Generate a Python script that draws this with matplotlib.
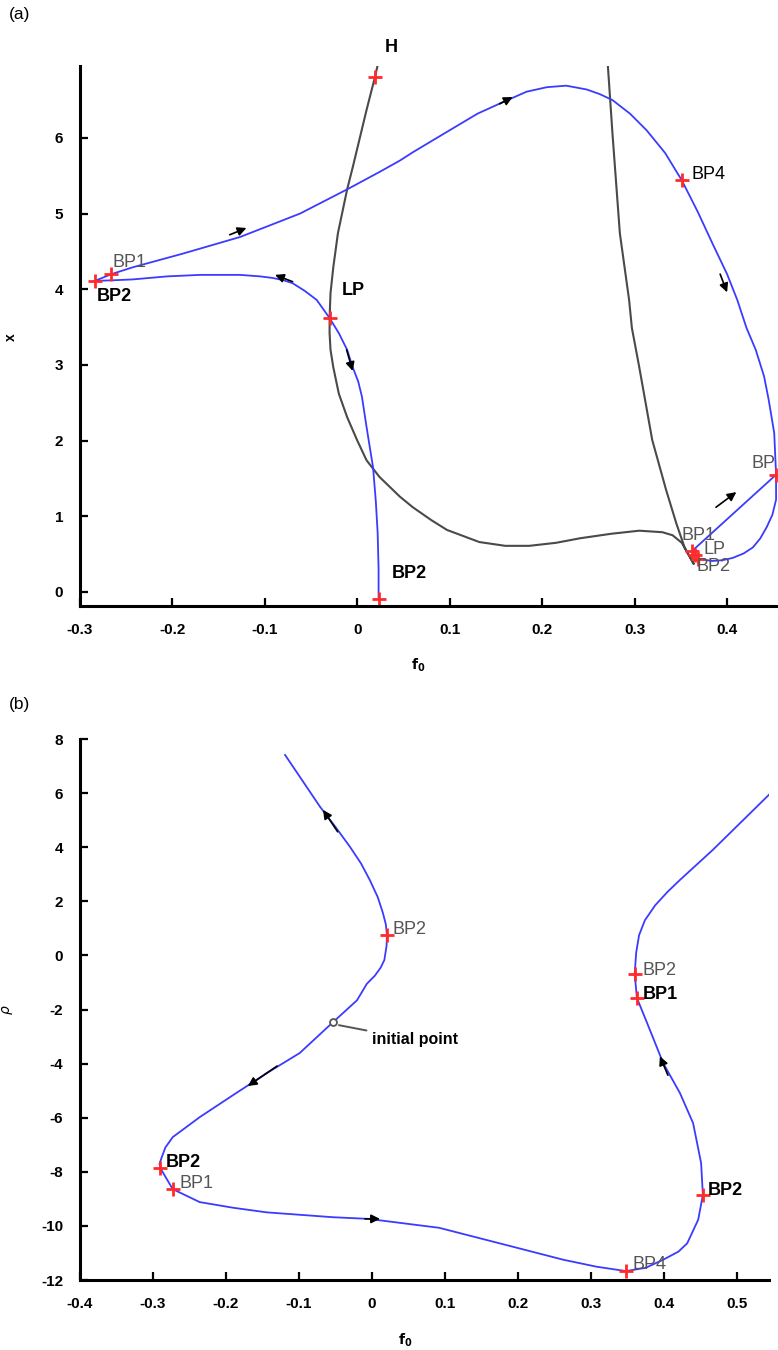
import numpy as np
import matplotlib
matplotlib.use('Agg')
import matplotlib.pyplot as plt

plt.rcParams['font.family'] = ['Liberation Sans', 'DejaVu Sans']
plt.rcParams['axes.unicode_minus'] = False

# ---------------- panel (a): f0 vs x ----------------
# blue branch from left BP2 through LP down to BP2 on the axis
a_low_f0 = [-0.284, -0.262, -0.243, -0.206, -0.170, -0.127, -0.105, -0.092, -0.080, -0.070,
            -0.057, -0.044, -0.030, -0.020, -0.011, -0.005, 0.001, 0.005, 0.010, 0.013,
            0.017, 0.020, 0.022, 0.023, 0.023]
a_low_x = [4.11, 4.12, 4.13, 4.17, 4.19, 4.19, 4.17, 4.15, 4.12, 4.08,
           3.98, 3.86, 3.62, 3.42, 3.20, 2.97, 2.78, 2.58, 2.18, 1.95,
           1.65, 1.20, 0.78, 0.30, -0.09]

# blue loop from left BP2 over the top, down the right side
a_loop_f0 = [-0.284, -0.266, -0.243, -0.189, -0.127, -0.062, -0.011, 0.024, 0.046, 0.060,
             0.097, 0.130, 0.157, 0.183, 0.205, 0.226, 0.248, 0.262, 0.276, 0.295,
             0.313, 0.333, 0.351, 0.368, 0.384, 0.400, 0.411, 0.421, 0.431, 0.440,
             0.445, 0.451, 0.453, 0.453, 0.449, 0.443, 0.436, 0.428, 0.418, 0.406,
             0.395, 0.384, 0.368]
a_loop_x = [4.11, 4.20, 4.29, 4.47, 4.69, 5.00, 5.32, 5.55, 5.70, 5.81,
            6.08, 6.32, 6.47, 6.61, 6.67, 6.69, 6.64, 6.58, 6.50, 6.32,
            6.10, 5.80, 5.44, 5.03, 4.61, 4.20, 3.86, 3.49, 3.20, 2.85,
            2.54, 2.10, 1.55, 1.22, 1.02, 0.86, 0.71, 0.59, 0.51, 0.45,
            0.42, 0.41, 0.44]

# short blue segment BP1 -> BP
a_seg_f0 = [0.362, 0.453]
a_seg_x = [0.54, 1.55]

# gray curve
a_gray_f0 = [0.022, 0.019, 0.010, -0.005, -0.011, -0.021, -0.026, -0.029, -0.030, -0.030,
             -0.029, -0.026, -0.020, -0.011, 0.000, 0.010, 0.024, 0.046, 0.060, 0.080,
             0.097, 0.132, 0.160, 0.186, 0.215, 0.241, 0.275, 0.305, 0.330, 0.341,
             0.351, 0.359, 0.364, 0.358, 0.354, 0.345, 0.334, 0.319, 0.305, 0.297,
             0.294, 0.284, 0.276, 0.271]
a_gray_x = [6.96, 6.80, 6.37, 5.61, 5.32, 4.74, 4.29, 3.95, 3.62, 3.42,
            3.20, 2.97, 2.62, 2.31, 2.00, 1.74, 1.52, 1.26, 1.12, 0.95,
            0.82, 0.66, 0.61, 0.61, 0.65, 0.71, 0.77, 0.81, 0.79, 0.75,
            0.65, 0.48, 0.37, 0.50, 0.59, 0.91, 1.35, 2.01, 2.97, 3.49,
            3.86, 4.74, 6.06, 6.96]

# special points
a_pts_f0 = [0.019, -0.030, -0.284, -0.266, 0.351, 0.453, 0.362, 0.365, 0.368, 0.023]
a_pts_x = [6.80, 3.62, 4.11, 4.20, 5.44, 1.55, 0.54, 0.49, 0.44, -0.09]

# labels: text, f0, x, colour, weight
a_labels = [
    ('H', 0.030, 7.19, 'black', 'bold'),
    ('BP1', -0.265, 4.36, '#555555', 'normal'),
    ('BP2', -0.282, 3.90, 'black', 'bold'),
    ('LP', -0.017, 3.99, 'black', 'bold'),
    ('BP4', 0.361, 5.51, 'black', 'normal'),
    ('BP', 0.426, 1.70, '#555555', 'normal'),
    ('BP1', 0.351, 0.75, '#555555', 'normal'),
    ('LP', 0.375, 0.555, '#555555', 'normal'),
    ('BP2', 0.3665, 0.34, '#555555', 'normal'),
    ('BP2', 0.037, 0.25, 'black', 'bold'),
]

# direction arrows (tail f0, tail x, head f0, head x)
a_arrows = [
    (-0.138, 4.72, -0.120, 4.81),
    (-0.070, 4.10, -0.089, 4.19),
    (-0.0116, 3.20, -0.005, 2.92),
    (0.154, 6.45, 0.168, 6.54),
    (0.3925, 4.20, 0.400, 3.96),
    (0.388, 1.12, 0.410, 1.32),
]

# ---------------- panel (b): f0 vs rho ----------------
b_f0 = [-0.119, -0.095, -0.071, -0.050, -0.030, -0.015, -0.003, 0.008, 0.015, 0.019,
        0.0205, 0.020, 0.017, 0.012, 0.004, -0.007, -0.0205, -0.053, -0.099, -0.144,
        -0.190, -0.236, -0.273, -0.283, -0.288, -0.291, -0.290, -0.273, -0.236, -0.190,
        -0.144, -0.053, -0.005, 0.092, 0.193, 0.262, 0.308, 0.348, 0.375, 0.399,
        0.420, 0.432, 0.447, 0.4534, 0.451, 0.440, 0.422, 0.399, 0.377, 0.363,
        0.360, 0.362, 0.366, 0.374, 0.388, 0.405, 0.422, 0.467, 0.544]
b_rho = [7.41, 6.45, 5.49, 4.75, 4.01, 3.40, 2.79, 2.15, 1.57, 1.15,
         0.76, 0.35, -0.17, -0.45, -0.75, -1.05, -1.66, -2.46, -3.61, -4.35,
         -5.16, -5.98, -6.72, -7.10, -7.46, -7.70, -7.86, -8.64, -9.12, -9.33,
         -9.50, -9.68, -9.74, -10.07, -10.77, -11.25, -11.51, -11.67, -11.55, -11.25,
         -10.95, -10.64, -9.77, -8.85, -7.68, -6.20, -5.09, -3.98, -2.50, -1.57,
         -0.69, 0.10, 0.75, 1.30, 1.85, 2.35, 2.79, 3.90, 5.94]

b_pts_f0 = [0.0205, 0.360, 0.363, -0.290, -0.273, 0.348, 0.4534]
b_pts_rho = [0.755, -0.69, -1.57, -7.86, -8.64, -11.67, -8.85]

b_init = (-0.053, -2.46)

b_labels = [
    ('BP2', 0.0288, 0.94, '#555555', 'normal'),
    ('BP2', 0.370, -0.54, '#555555', 'normal'),
    ('BP1', 0.371, -1.46, 'black', 'bold'),
    ('BP2', -0.282, -7.64, 'black', 'bold'),
    ('BP1', -0.263, -8.45, '#555555', 'normal'),
    ('BP2', 0.460, -8.68, 'black', 'bold'),
    ('BP4', 0.3575, -11.44, '#555555', 'normal'),
]

b_arrows = [
    (-0.047, 4.57, -0.067, 5.38),
    (-0.130, -4.09, -0.170, -4.83),
    (-0.0096, -9.74, 0.011, -9.74),
    (0.4055, -4.43, 0.3945, -3.73),
]

BLUE = '#3b3bff'
GRAY = '#4a4a4a'
RED = '#ff2a2a'


def style_axes(ax):
    ax.spines['top'].set_visible(False)
    ax.spines['right'].set_visible(False)
    ax.spines['left'].set_linewidth(2.2)
    ax.spines['bottom'].set_linewidth(2.2)
    ax.tick_params(direction='in', length=6, width=1.6, labelsize=11, pad=12)
    for lab in ax.get_xticklabels() + ax.get_yticklabels():
        lab.set_fontweight('bold')


def draw_arrows(ax, arrows):
    for tx, ty, hx, hy in arrows:
        ax.annotate('', xy=(hx, hy), xytext=(tx, ty),
                    arrowprops=dict(arrowstyle='-|>', color='black', lw=1.2,
                                    mutation_scale=13, shrinkA=0, shrinkB=0))


def draw_labels(ax, labels):
    for txt, x, y, c, w in labels:
        ax.text(x, y, txt, color=c, fontweight=w, fontsize=13, ha='left', va='center')


fig = plt.figure(figsize=(7.78, 13.5), dpi=100)

# panel (a)
ax1 = fig.add_axes([80 / 778, 1 - 606 / 1350, 697 / 778, 540 / 1350])
ax1.plot(a_gray_f0, a_gray_x, color=GRAY, lw=1.5)
ax1.plot(a_low_f0, a_low_x, color=BLUE, lw=1.3)
ax1.plot(a_loop_f0, a_loop_x, color=BLUE, lw=1.3)
ax1.plot(a_seg_f0, a_seg_x, color=BLUE, lw=1.3)
ax1.plot(a_pts_f0, a_pts_x, '+', color=RED, ms=10, mew=2, clip_on=False)
draw_arrows(ax1, a_arrows)
draw_labels(ax1, a_labels)
ax1.set_xlim(-0.3, 0.454)
ax1.set_ylim(-0.185, 6.95)
ax1.set_xticks([-0.3, -0.2, -0.1, 0, 0.1, 0.2, 0.3, 0.4])
ax1.set_xticklabels(['-0.3', '-0.2', '-0.1', '0', '0.1', '0.2', '0.3', '0.4'])
ax1.set_yticks([0, 1, 2, 3, 4, 5, 6])
style_axes(ax1)
ax1.set_xlabel(r'$\mathbf{f_0}$', fontsize=10)
ax1.xaxis.set_label_coords(0.485, -0.094)
ax1.set_ylabel('x', fontsize=10, fontweight='bold', rotation=90)
ax1.yaxis.set_label_coords(-0.089, 0.498)

# panel (b)
ax2 = fig.add_axes([80 / 778, 1 - 1280 / 1350, 689 / 778, 541 / 1350])
ax2.plot(b_f0, b_rho, color=BLUE, lw=1.3)
ax2.plot(b_pts_f0, b_pts_rho, '+', color=RED, ms=10, mew=2, clip_on=False)
ax2.plot([b_init[0]], [b_init[1]], 'o', mfc='white', mec='#555555', mew=1.3, ms=5)
ax2.annotate('initial point', xy=(b_init[0] + 0.004, b_init[1] - 0.1), xytext=(0.0, -3.12),
             fontsize=11.5, fontweight='bold', va='center', ha='left',
             arrowprops=dict(arrowstyle='-', color='#555555', lw=1.4, shrinkA=2, shrinkB=2))
draw_arrows(ax2, b_arrows)
draw_labels(ax2, b_labels)
ax2.set_xlim(-0.4, 0.544)
ax2.set_ylim(-12, 8)
ax2.set_xticks([-0.4, -0.3, -0.2, -0.1, 0, 0.1, 0.2, 0.3, 0.4, 0.5])
ax2.set_xticklabels(['-0.4', '-0.3', '-0.2', '-0.1', '0', '0.1', '0.2', '0.3', '0.4', '0.5'])
ax2.set_yticks(np.arange(-12, 9, 2))
style_axes(ax2)
ax2.set_xlabel(r'$\mathbf{f_0}$', fontsize=10)
ax2.xaxis.set_label_coords(0.472, -0.096)
ax2.set_ylabel(r'$\rho$', fontsize=10, rotation=90)
ax2.yaxis.set_label_coords(-0.094, 0.499)

fig.text(20 / 778, 1 - 15 / 1350, '(a)', fontsize=12.5, ha='center', va='center')
fig.text(20 / 778, 1 - 705 / 1350, '(b)', fontsize=12.5, ha='center', va='center')

fig.savefig('out.png', dpi=100)
